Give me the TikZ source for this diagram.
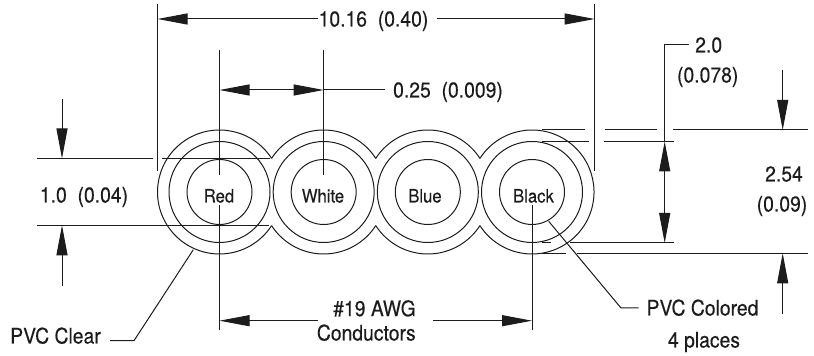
\documentclass[tikz,border=0pt]{standalone}
\usepackage{fontspec}
\setmainfont[FakeStretch=0.9,FakeBold=0.25]{TeX Gyre Heros}
\usetikzlibrary{arrows.meta,positioning}
\definecolor{ink}{HTML}{1C1C1C}

\begin{document}
\begin{tikzpicture}
  [x=1pt,y=1pt,node distance=104.17pt,on grid,
   rule/.style={draw=ink,line width=1pt},
   tip/.style={rule,-{Triangle[length=30pt,width=11pt]}},
   both tips/.style={rule,{Triangle[length=30pt,width=11pt]}-{Triangle[length=30pt,width=11pt]}},
   conductor/.style={circle,rule,minimum size=65pt,inner sep=0pt},
   jacket/.style={circle,rule,minimum size=101pt,inner sep=0pt},
   dim text/.style={text=ink,inner sep=0pt,text height=15pt,text depth=0pt,font=\fontsize{21.5}{24}\selectfont},
   wire text/.style={text=ink,inner sep=0pt,text height=13pt,text depth=0pt,font=\fontsize{18.5}{20}\selectfont}]

  \useasboundingbox (0,0) rectangle (814,356);

  % Conductors and their jackets
  \node [conductor] (red) at (219.5,164)    {};
  \node [conductor] (white) [right=of red]  {};
  \node [conductor] (blue)  [right=of white]{};
  \node [conductor] (black) [right=of blue] {};

  \node [jacket] (red j)   at (red)   {};
  \node [jacket] (white j) at (white) {};
  \node [jacket] (blue j)  at (blue)  {};
  \node [jacket] (black j) at (black) {};

  \node [wire text] (red text)   at (219,160)   {Red};
  \node [wire text] (white text) at (323,160)   {White};
  \node [wire text] (blue text)  at (425,160)   {Blue};
  \node [wire text] (black text) at (533.5,160) {Black};

  % Outer outline, scalloped between the wires
  \def\cusp{32.8}
  \draw [rule] (red)   ++(\cusp:62pt)     arc [start angle=\cusp,end angle=360-\cusp,radius=62pt];
  \draw [rule] (black) ++(180-\cusp:62pt) arc [start angle=180-\cusp,end angle=-180+\cusp,radius=62pt];
  \draw [rule] (white) ++(180-\cusp:62pt) arc [start angle=180-\cusp,end angle=\cusp,radius=62pt];
  \draw [rule] (white) ++(180+\cusp:62pt) arc [start angle=180+\cusp,end angle=360-\cusp,radius=62pt];
  \draw [rule] (blue)  ++(180-\cusp:62pt) arc [start angle=180-\cusp,end angle=\cusp,radius=62pt];
  \draw [rule] (blue)  ++(180+\cusp:62pt) arc [start angle=180+\cusp,end angle=360-\cusp,radius=62pt];

  % Overall width
  \node [dim text] (width text) at (373.5,337) {10.16\ \ (0.40)};
  \coordinate (lext top) at (157.5,352);
  \coordinate (lext tip) at (157.5,337);
  \coordinate (lext bot) at (157.5,185);
  \coordinate (rext top) at (594.7,352);
  \coordinate (rext tip) at (594.7,337);
  \coordinate (rext bot) at (594.7,185);
  \draw [rule] (lext top) -- (lext bot);
  \draw [rule] (rext top) -- (rext bot);
  \draw [tip] (width text.west) -- (lext tip);
  \draw [tip,shorten <=8pt] (width text.east) -- (rext tip);

  % Pitch
  \node [dim text] (pitch text) at (448,266) {0.25\ \ (0.009)};
  \coordinate (red up)    at (219.5,306);
  \coordinate (red tip)   at (219.5,266);
  \coordinate (red in)    at (219.5,181);
  \coordinate (white up)  at (323.7,306);
  \coordinate (white tip) at (323.7,266);
  \coordinate (white in)  at (323.7,181);
  \draw [rule] (red up) -- (red in);
  \draw [rule] (white up) -- (white in);
  \draw [both tips] (red tip) -- (white tip);
  \draw [rule,shorten >=8pt] (white tip) -- (pitch text.west);

  % Conductor spacing
  \node [dim text] (awg text)  at (374.5,47.3) {\#19 AWG};
  \node [dim text] (cond text) at (366.3,23)   {Conductors};
  \coordinate (red low)   at (219.5,151);
  \coordinate (red end)   at (219.5,26);
  \coordinate (awg ltip)  at (219.5,35.3);
  \coordinate (awg l)     at (318,35.3);
  \coordinate (black low) at (532,151);
  \coordinate (black end) at (532,26);
  \coordinate (awg rtip)  at (532,35.3);
  \coordinate (awg r)     at (433,35.3);
  \draw [rule] (red low) -- (red end);
  \draw [rule] (black low) -- (black end);
  \draw [tip] (awg l) -- (awg ltip);
  \draw [tip] (awg r) -- (awg rtip);

  % Conductor diameter
  \node [dim text] (core text) at (84,161) {1.0\ \ (0.04)};
  \coordinate (core a) at (37,197.5);
  \coordinate (core b) at (153,197.5);
  \coordinate (core c) at (162,197.5);
  \coordinate (core d) at (270,197.5);
  \coordinate (core e) at (37,130.7);
  \coordinate (core f) at (269,130.7);
  \coordinate (core g) at (62,257);
  \coordinate (core h) at (62,197.5);
  \coordinate (core i) at (62,70.3);
  \coordinate (core j) at (62,130.7);
  \draw [rule] (core a) -- (core b);
  \draw [rule] (core c) -- (core d);
  \draw [rule] (core e) -- (core f);
  \draw [tip] (core g) -- (core h);
  \draw [tip] (core i) -- (core j);

  % Insulated diameter
  \node [dim text] (ins text a) at (708.7,311) {2.0};
  \node [dim text] (ins text b) at (707.7,281) {(0.078)};
  \coordinate (ins a) at (542,214.5);
  \coordinate (ins b) at (589,214.5);
  \coordinate (ins c) at (604,214.5);
  \coordinate (ins d) at (664.7,214.5);
  \coordinate (ins e) at (673.7,214.5);
  \coordinate (ins f) at (542,113);
  \coordinate (ins g) at (551,113);
  \coordinate (ins h) at (570,113);
  \coordinate (ins i) at (664.7,113);
  \coordinate (ins j) at (673.7,113);
  \coordinate (ins k) at (664.7,311);
  \coordinate (ins l) at (688.7,311);
  \draw [rule] (ins a) -- (ins b);
  \draw [rule] (ins c) -- (ins e);
  \draw [rule] (ins f) -- (ins g);
  \draw [rule] (ins h) -- (ins j);
  \draw [rule] (ins l) -- (ins k) -- (ins d);
  \draw [both tips] (ins d) -- (ins i);

  % Overall height
  \node [dim text] (high text a) at (784,182) {2.54};
  \node [dim text] (high text b) at (782,152) {(0.09)};
  \coordinate (high a) at (542,226);
  \coordinate (high b) at (584.7,226);
  \coordinate (high c) at (604.5,226);
  \coordinate (high d) at (657,226);
  \coordinate (high e) at (673,226);
  \coordinate (high f) at (808,226);
  \coordinate (high g) at (542,102.7);
  \coordinate (high h) at (566,102.7);
  \coordinate (high i) at (577,102.7);
  \coordinate (high j) at (808,102.7);
  \coordinate (high k) at (782.7,286);
  \coordinate (high l) at (782.7,226);
  \coordinate (high m) at (782.7,42.3);
  \coordinate (high n) at (782.7,102.7);
  \draw [rule] (high a) -- (high b);
  \draw [rule] (high c) -- (high d);
  \draw [rule] (high e) -- (high f);
  \draw [rule] (high g) -- (high h);
  \draw [rule] (high i) -- (high j);
  \draw [tip] (high k) -- (high l);
  \draw [tip] (high m) -- (high n);

  % Leaders
  \node [dim text] (clear text)   at (55.5,20)  {PVC Clear};
  \node [dim text] (colored text) at (702.5,48) {PVC Colored};
  \node [dim text] (places text)  at (704,16)   {4 places};
  \coordinate (clear a)   at (110,15.3);
  \coordinate (clear b)   at (134,15.3);
  \coordinate (clear c)   at (193.3,106.3);
  \coordinate (colored a) at (638.7,48);
  \coordinate (colored b) at (621,48);
  \coordinate (colored c) at (548.7,134.7);
  \draw [rule] (clear a) -- (clear b) -- (clear c);
  \draw [rule] (colored a) -- (colored b) -- (colored c);
\end{tikzpicture}
\end{document}
